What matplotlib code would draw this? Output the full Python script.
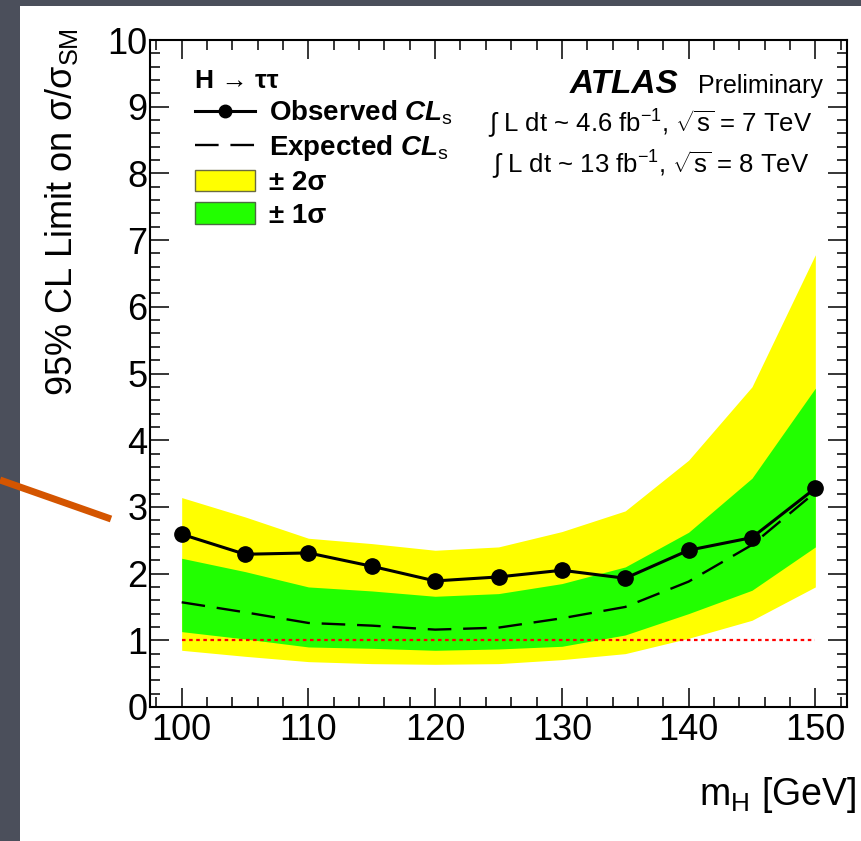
import matplotlib
matplotlib.use('Agg')
import matplotlib.pyplot as plt
from matplotlib.lines import Line2D
from matplotlib.patches import Patch, Rectangle
from matplotlib.ticker import MultipleLocator

plt.rcParams['font.family'] = ['Liberation Sans', 'DejaVu Sans']
plt.rcParams['mathtext.fontset'] = 'custom'
plt.rcParams['mathtext.rm'] = 'Liberation Sans'
plt.rcParams['mathtext.it'] = 'Liberation Sans:italic:bold'
plt.rcParams['mathtext.bf'] = 'Liberation Sans:bold'

# Higgs mass points [GeV]
mass = [100, 105, 110, 115, 120, 125, 130, 135, 140, 145, 150]
# 95% CL limits on sigma/sigma_SM
observed = [2.59, 2.29, 2.31, 2.11, 1.89, 1.95, 2.05, 1.93, 2.35, 2.54, 3.28]
expected = [1.57, 1.42, 1.26, 1.22, 1.16, 1.19, 1.33, 1.50, 1.88, 2.43, 3.22]
plus1 = [2.23, 2.03, 1.80, 1.74, 1.66, 1.70, 1.85, 2.10, 2.62, 3.43, 4.78]
minus1 = [1.13, 1.02, 0.90, 0.88, 0.85, 0.87, 0.91, 1.08, 1.40, 1.75, 2.40]
plus2 = [3.14, 2.85, 2.53, 2.45, 2.35, 2.40, 2.63, 2.94, 3.70, 4.80, 6.78]
minus2 = [0.85, 0.76, 0.68, 0.65, 0.64, 0.65, 0.71, 0.80, 1.03, 1.30, 1.80]
sm_line = 1.0

W, H = 862, 841
YELLOW = '#ffff00'
GREEN = '#22ff00'

fig = plt.figure(figsize=(W / 100, H / 100), dpi=100)
fig.patch.set_facecolor('#4b4f5b')

# white slide panel
fig.add_artist(Rectangle((20 / W, 0), 1 - 20 / W, 835 / H, transform=fig.transFigure,
                         facecolor='white', edgecolor='none', zorder=-5))

ax = fig.add_axes([150 / W, 134 / H, 697 / W, 667 / H])

ax.fill_between(mass, minus2, plus2, color=YELLOW, lw=0)
ax.fill_between(mass, minus1, plus1, color=GREEN, lw=0)
ax.hlines(sm_line, mass[0], mass[-1], colors='red', linestyles=(0, (1.6, 1.6)), lw=1.6)
ax.plot(mass, expected, color='black', ls=(0, (10, 5)), lw=1.7)
ax.plot(mass, observed, color='black', lw=2.2, marker='o', ms=11)

ax.set_xlim(97.5, 152.5)
ax.set_ylim(0, 10)
ax.xaxis.set_major_locator(MultipleLocator(10))
ax.xaxis.set_minor_locator(MultipleLocator(2))
ax.yaxis.set_major_locator(MultipleLocator(1))
ax.yaxis.set_minor_locator(MultipleLocator(0.2))
ax.tick_params(which='both', direction='in', top=True, right=True, width=1.1, labelsize=26)
ax.tick_params(which='major', length=13.5)
ax.tick_params(which='minor', length=7)
ax.tick_params(axis='y', pad=2)
ax.tick_params(axis='x', pad=4)
for s in ax.spines.values():
    s.set_linewidth(1.5)

ax.set_ylabel('95% CL Limit on σ/σ$_{\\rm SM}$', fontsize=26, loc='top')
ax.yaxis.set_label_coords(-0.1, 1.018)
ax.set_xlabel('m$_{\\rm H}$ [GeV]', fontsize=27, loc='right')
ax.xaxis.set_label_coords(1.013, -0.102)

handles = [
    Line2D([], [], color='black', lw=2.2, marker='o', ms=9),
    Line2D([], [], color='black', lw=1.7, ls=(0, (10, 5))),
    Patch(facecolor=YELLOW, edgecolor='#6b6b40', lw=1),
    Patch(facecolor=GREEN, edgecolor='#4b6b40', lw=1),
]
labels = ['Observed $CL_{\\rm s}$', 'Expected $CL_{\\rm s}$', '± 2σ', '± 1σ']
leg = ax.legend(handles, labels, loc='upper left', bbox_to_anchor=(0.065, 0.957),
                frameon=False, borderpad=0, borderaxespad=0,
                prop={'weight': 'bold', 'size': 20}, title='H → ττ',
                title_fontproperties={'weight': 'bold', 'size': 19},
                alignment='left', handlelength=2.15, handleheight=0.82,
                handletextpad=0.5, labelspacing=0.22)

def fx(px):
    return px / W

def fy(py):
    return 1 - py / H

fig.text(fx(570), fy(93), 'ATLAS', fontsize=24, fontweight='bold', fontstyle='italic')
fig.text(fx(698), fy(93), 'Preliminary', fontsize=18)
fig.text(fx(488), fy(132), '∫ L dt ~ 4.6 fb$^{-1}$, $\\sqrt{\\rm s}$ = 7 TeV', fontsize=18.5)
fig.text(fx(492), fy(173), '∫ L dt ~ 13 fb$^{-1}$, $\\sqrt{\\rm s}$ = 8 TeV', fontsize=18.5)

# pointer line drawn across the slide
fig.add_artist(Line2D([fx(0), fx(111)], [fy(480), fy(519)], transform=fig.transFigure,
                      color='#d45500', lw=5, solid_capstyle='butt'))

fig.savefig('out.png', dpi=100, facecolor=fig.get_facecolor())
